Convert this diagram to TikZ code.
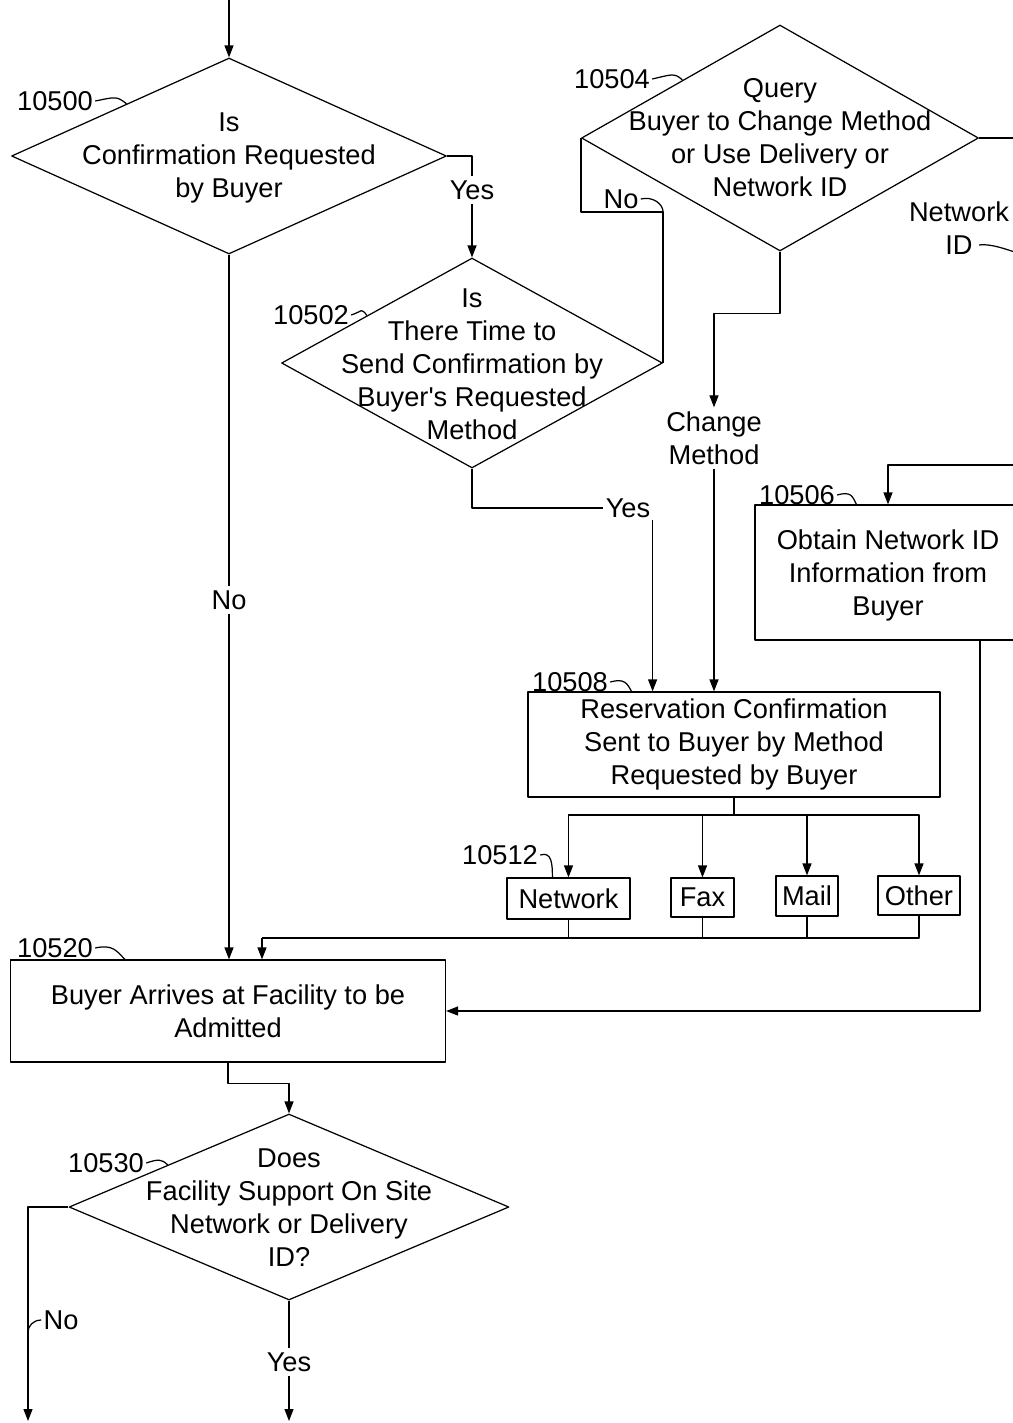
\documentclass[tikz,border=0pt]{standalone}
\usepackage{fontspec}
\setmainfont{Liberation Sans}
\usetikzlibrary{shapes.geometric,arrows.meta,calc}
\begin{document}
\begin{tikzpicture}[x=0.02cm,y=-0.02cm,>={Triangle[length=2.4mm,width=1.8mm]},
	font=\fontsize{15.5}{18.8}\selectfont, line width=0.7pt, line join=round,
	decision/.style={draw,diamond,inner sep=0pt},
	block/.style={draw,rectangle,inner sep=0pt},
	txt/.style={align=center,inner sep=0pt},
	tag/.style={inner sep=1pt},
	lbl/.style={align=center,inner sep=2pt}]
	\clip (0,0) rectangle (1013,1423);
	%	\draw[color=gray!50,dashed] (0,0) grid[step=2cm] (1013,1423);
	\coordinate (start) at (229,0);
	\node[decision,minimum width=8.7cm,minimum height=3.92cm] (d00) at (229,156) {};
	\node[txt] (t00) at ($(d00)+(0,2)$) {Is\\Confirmation Requested\\by Buyer};
	\node[decision,minimum width=7.62cm,minimum height=4.2cm] (d02) at (472,363) {};
	\node[txt] (t02) at ($(d02)+(0,1)$) {Is\\There Time to\\Send Confirmation by\\Buyer\textquotesingle s Requested\\Method};
	\node[decision,minimum width=7.94cm,minimum height=4.52cm] (d04) at (780,138) {};
	\node[txt] (t04) at (d04) {Query\\Buyer to Change Method\\or Use Delivery or\\Network ID};
	\node[block,minimum width=5.32cm,minimum height=2.7cm] (b06) at (888,572.5) {};
	\node[txt] (t06) at ($(b06)+(0,3)$) {Obtain Network ID\\Information from\\Buyer};
	\node[block,minimum width=8.24cm,minimum height=2.1cm] (b08) at (734,744.5) {};
	\node[txt] (t08) at (b08) {Reservation Confirmation\\Sent to Buyer by Method\\Requested by Buyer};
	\node[block,minimum width=2.46cm,minimum height=0.82cm] (net) at (568.5,898.5) {Network};
	\node[block,minimum width=1.26cm,minimum height=0.78cm] (fax) at (702.5,897.5) {Fax};
	\node[block,minimum width=1.24cm,minimum height=0.8cm] (mail) at (807,896) {Mail};
	\node[block,minimum width=1.64cm,minimum height=0.78cm] (other) at (919,895.5) {Other};
	\node[block,minimum width=8.7cm,minimum height=2.04cm] (b20) at (228,1011) {};
	\node[txt] (t20) at (b20) {Buyer Arrives at Facility to be\\Admitted};
	\node[decision,minimum width=8.8cm,minimum height=3.72cm] (d30) at (289,1207) {};
	\node[txt] (t30) at ($(d30)+(0,1)$) {Does\\Facility Support On Site\\Network or Delivery\\ID?};

	\node[tag] (l00) at (55,101) {10500};
	\node[tag] (l02) at (311,315) {10502};
	\node[tag] (l04) at (612,79) {10504};
	\node[tag] (l06) at (797,495) {10506};
	\node[tag] (l08) at (570,682) {10508};
	\node[tag] (l12) at (500,855) {10512};
	\node[tag] (l20) at (55,948) {10520};
	\node[tag] (l30) at (106,1163) {10530};
	\draw (l00.east) .. controls +(20,-4) and +(-10,-8) .. ($(d00.north)!0.47!(d00.west)$);
	\draw (l02.east) .. controls +(12,-4) and +(-6,-8) .. ($(d02.north)!0.55!(d02.west)$);
	\draw (l04.east) .. controls +(18,-4) and +(-8,-8) .. ($(d04.north)!0.49!(d04.west)$);
	\draw (l06.east) .. controls +(14,-4) and +(-4,-8) .. ($(b06.north west)+(102,0)$);
	\draw (l08.east) .. controls +(14,-4) and +(-4,-8) .. ($(b08.north west)+(104,0)$);
	\draw (l12.east) .. controls +(12,-4) and +(0,-12) .. ($(net.north west)+(46,0)$);
	\draw (l20.east) .. controls +(18,-4) and +(-8,-8) .. ($(b20.north west)+(115,0)$);
	\draw (l30.east) .. controls +(12,-4) and +(-6,-6) .. ($(d30.north)!0.55!(d30.west)$);

	\node[lbl] (yes1) at (472,190) {Yes};
	\node[lbl] (no1) at (229,600) {No};
	\node[tag] (no2) at (621,199) {No};
	\node[tag] (yes2) at (628,508) {Yes};
	\node[lbl] (chg) at (714,438) {Change\\Method};
	\node[lbl] (netid) at (959,228) {Network\\ID};
	\node[lbl] (yes3) at (289,1362) {Yes};
	\node[tag] (no3) at (61,1320) {No};
	\coordinate (offA) at (1030,138);
	\coordinate (offB) at (1030,465);
	\coordinate (split) at (734,815);
	\coordinate (merge) at (262,938);
	\coordinate (outno) at (28,1421);
	\coordinate (outyes) at (289,1421);

	\draw[->] (start) -- (d00.north);
	\draw (d00.east) -| (yes1.north);
	\draw[->] (yes1.south) -- (d02.north);
	\draw (d00.south) -- (no1.north);
	\draw[->] (no1.south) -- (no1.south |- b20.north);
	\draw (d02.east) |- ($(d04.west)+(0,74)$) -- (d04.west);
	\draw (no2.east) .. controls +(12,-3) and +(0,-8) .. ($(d02.east |- d04.west)+(0,74)$);
	\draw (d02.south) |- (yes2.west);
	\draw[->] (yes2.south east) -- (yes2.south east |- b08.north);
	\draw[->] (d04.south) -- ++(0,62) -| (chg.north);
	\draw[->] (chg.south) -- (chg.south |- b08.north);
	\draw (d04.east) -- (offA);
	\draw ($(netid.center)+(20,17)$) .. controls +(15,-2) and +(-15,-4) .. ++(51,12);
	\draw[->] (offB) -| (b06.north);
	\draw[->] ($(b06.south)+(92,0)$) |- (b20.east);
	\draw (b08.south) -- (split);
	\foreach \m in {net,fax,mail,other} \draw[->] (split) -| (\m.north);
	\foreach \m in {net,fax,mail,other} \draw (\m.south) |- (merge);
	\draw[->] (merge) -- (merge |- b20.north);
	\draw[->] (b20.south) -- ++(0,21) -| (d30.north);
	\draw[->] (d30.west) -| (outno);
	\draw (no3.west) .. controls +(-8,0) and +(0,-6) .. (28,1332);
	\draw (d30.south) -- (yes3.north);
	\draw[->] (yes3.south) -- (outyes);
\end{tikzpicture}
\end{document}
